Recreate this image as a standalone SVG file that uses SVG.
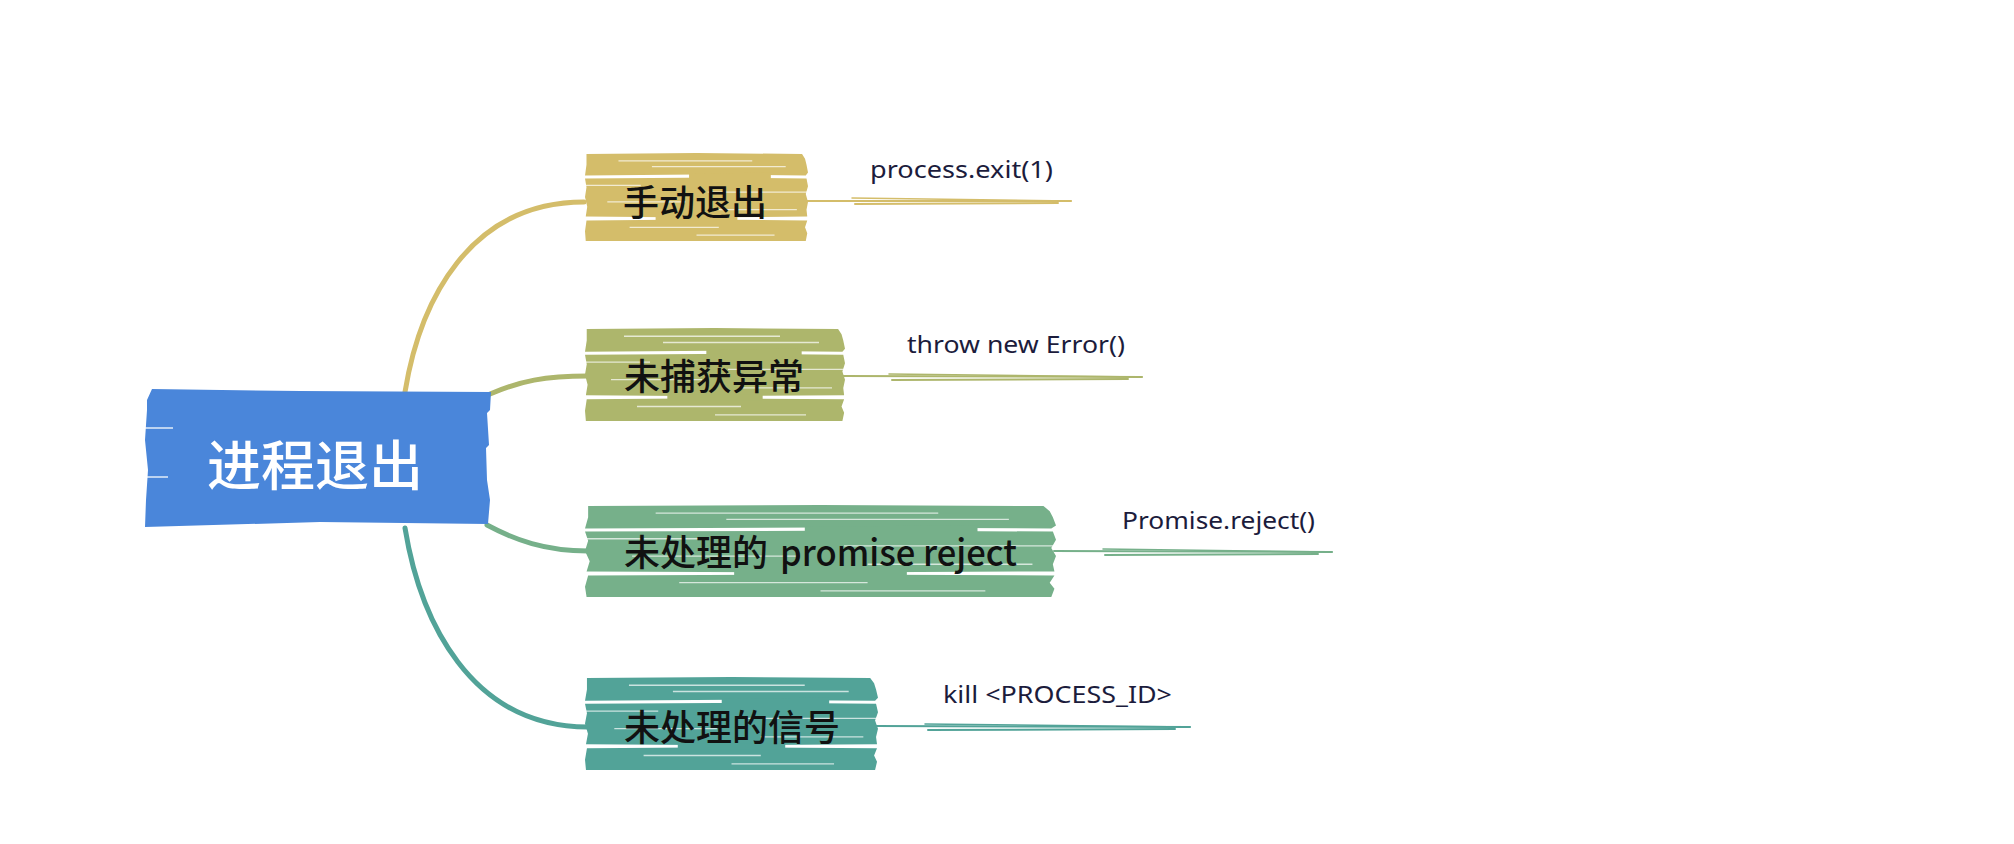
<svg xmlns="http://www.w3.org/2000/svg" xmlns:xlink="http://www.w3.org/1999/xlink" width="2014" height="844" viewBox="0 0 2014 844">
<style>
.lbl{font-family:"Noto Sans","Liberation Sans",sans-serif;font-size:24px;fill:#1c1c3c;}
.ntxt{font-family:"Noto Sans CJK SC","Noto Sans",sans-serif;font-size:36px;font-weight:500;fill:#111;}
.root{font-family:"Noto Sans CJK SC","Noto Sans",sans-serif;font-size:54px;font-weight:500;fill:#fff;}
.branch{fill:none;stroke-width:5;stroke-linecap:round;}
.ul{fill:none;stroke-linecap:round;}
.streak{stroke:#fff;stroke-width:1.3;opacity:.7;}
</style>
<defs>
<symbol id="brush" viewBox="0 0 300 90" preserveAspectRatio="none">
<polygon points="2,1 150,0 292,1 296,6 298,12 300,20 297,23 150,22 0,23 2,12"/>
<polygon points="0,26 180,25 298,26 300,34 297,42 300,50 298,58 299,65 150,66 1,65 3,55 0,45 2,35"/>
<polygon points="2,69 150,68 299,69 296,76 299,82 297,90 150,91 1,90 0,80"/>
<polygon points="140,21 250,20 250,27 140,27"/>
<polygon points="95,64 205,64 205,70 95,70"/>
<g class="streak">
<line x1="45" y1="8" x2="225" y2="8"/>
<line x1="90" y1="14" x2="270" y2="14"/>
<line x1="0" y1="33" x2="75" y2="33"/>
<line x1="165" y1="40" x2="300" y2="40"/>
<line x1="30" y1="50" x2="135" y2="50"/>
<line x1="180" y1="58" x2="285" y2="58"/>
<line x1="60" y1="76" x2="180" y2="76"/>
<line x1="150" y1="84" x2="255" y2="84"/>
</g>
</symbol>
</defs>
<rect width="2014" height="844" fill="#fff"/>
<g id="connectors">
<path class="branch" stroke="#D4BD6A" d="M405,392 C420,300 470,202 584,202"/>
<path class="branch" stroke="#ADB66C" d="M490,394 C520,381 545,376 588,376"/>
<path class="branch" stroke="#76B08A" d="M487,525 C515,540 545,551 588,551"/>
<path class="branch" stroke="#52A398" d="M405,528 C420,620 470,727 588,727"/>
<g stroke="#D4BD6A">
<path class="ul" stroke-width="2" d="M806,201 L1071,201"/>
<path class="ul" stroke-width="1.5" d="M852,198 Q960,199 1071,201"/>
<path class="ul" stroke-width="2" d="M855,204 L1058,203"/>
</g>
<g stroke="#ADB66C">
<path class="ul" stroke-width="2" d="M843,376 L1142,377"/>
<path class="ul" stroke-width="1.5" d="M889,374 Q1010,375 1142,377"/>
<path class="ul" stroke-width="2" d="M892,380 L1128,379"/>
</g>
<g stroke="#76B08A">
<path class="ul" stroke-width="2" d="M1054,551 L1332,552"/>
<path class="ul" stroke-width="1.5" d="M1103,549 Q1215,550 1332,552"/>
<path class="ul" stroke-width="2" d="M1105,555 L1318,554"/>
</g>
<g stroke="#52A398">
<path class="ul" stroke-width="2" d="M876,726 L1190,727"/>
<path class="ul" stroke-width="1.5" d="M925,724 Q1055,725 1190,727"/>
<path class="ul" stroke-width="2" d="M928,730 L1175,729"/>
</g>
</g>
<g id="root">
<polygon fill="#4A86DA" points="152,389 300,391 491,392 490,410 487,413 489,445 486,448 487,480 490,500 488,524 320,522 145,527 146,500 148,470 145,440 147,410 147,400"/>
<g stroke="#fff" stroke-width="1.5" opacity=".85">
<line x1="144" y1="428" x2="173" y2="428"/>
<line x1="144" y1="477" x2="168" y2="477"/>
</g>
<text class="root" x="207" y="486">进程退出</text>
</g>
<g id="node-1">
<use href="#brush" x="585" y="153" width="223" height="88" fill="#D4BD6A"/>
<text class="ntxt" x="623" y="216">手动退出</text>
</g>
<g id="node-2">
<use href="#brush" x="585" y="328" width="260" height="93" fill="#ADB66C"/>
<text class="ntxt" x="624" y="390">未捕获异常</text>
</g>
<g id="node-3">
<use href="#brush" x="585" y="505" width="471" height="92" fill="#76B08A"/>
<text class="ntxt" x="624" y="566"><tspan>未处理的 </tspan><tspan x="780" textLength="237" lengthAdjust="spacingAndGlyphs">promise reject</tspan></text>
</g>
<g id="node-4">
<use href="#brush" x="585" y="677" width="293" height="93" fill="#52A398"/>
<text class="ntxt" x="624" y="741">未处理的信号</text>
</g>
<g id="label-1"><text class="lbl" x="870" y="178" textLength="183" lengthAdjust="spacingAndGlyphs">process.exit(1)</text></g>
<g id="label-2"><text class="lbl" x="907" y="353" textLength="218" lengthAdjust="spacingAndGlyphs">throw new Error()</text></g>
<g id="label-3"><text class="lbl" x="1122" y="529" textLength="193" lengthAdjust="spacingAndGlyphs">Promise.reject()</text></g>
<g id="label-4"><text class="lbl" x="943" y="703" textLength="229" lengthAdjust="spacingAndGlyphs">kill &lt;PROCESS_ID&gt;</text></g>
</svg>
